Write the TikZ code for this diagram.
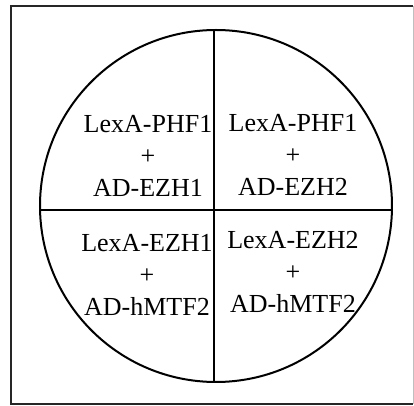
\documentclass[tikz,border=0pt]{standalone}
\usepackage{fontspec}
\setmainfont{Liberation Serif}
\usetikzlibrary{positioning,calc}

\begin{document}
\begin{tikzpicture}[
    x=0.5pt,
    y=-0.5pt,
    frame/.style={
        line width=1pt,
        black!85
    },
    plate/.style={
        line width=1pt
    },
    divider/.style={
        line width=0.8pt
    },
    pair/.style={
        align=center,
        inner sep=0pt,
        font=\fontsize{13}{15.8}\selectfont
    }
]

%------------------------------------------------
% Frame
%------------------------------------------------

\useasboundingbox (0,0) rectangle (414,406);

\draw[frame] (413,6) -- (11,6) -- (11,404) -- (413,404);
\draw[line width=0.4pt,black!25] (413,6) -- (413,404);

%------------------------------------------------
% Plate and quadrants
%------------------------------------------------

\draw[plate] (216,206) circle (176);

\coordinate (ctop) at (214,30);
\coordinate (cbottom) at (214,382);
\coordinate (cleft) at (40,210);
\coordinate (cright) at (392,210);

\draw[divider] (ctop) -- (cbottom);
\draw[divider] (cleft) -- (cright);

%------------------------------------------------
% Pairs
%------------------------------------------------

\node[pair] (phfezha) at (148,156) {LexA-PHF1\\+\\AD-EZH1};
\node[pair] (phfezhb) at (293,155) {LexA-PHF1\\+\\AD-EZH2};
\node[pair] (ezhmtfa) at (147,275) {LexA-EZH1\\+\\AD-hMTF2};
\node[pair] (ezhmtfb) at (293,272) {LexA-EZH2\\+\\AD-hMTF2};

\end{tikzpicture}
\end{document}
